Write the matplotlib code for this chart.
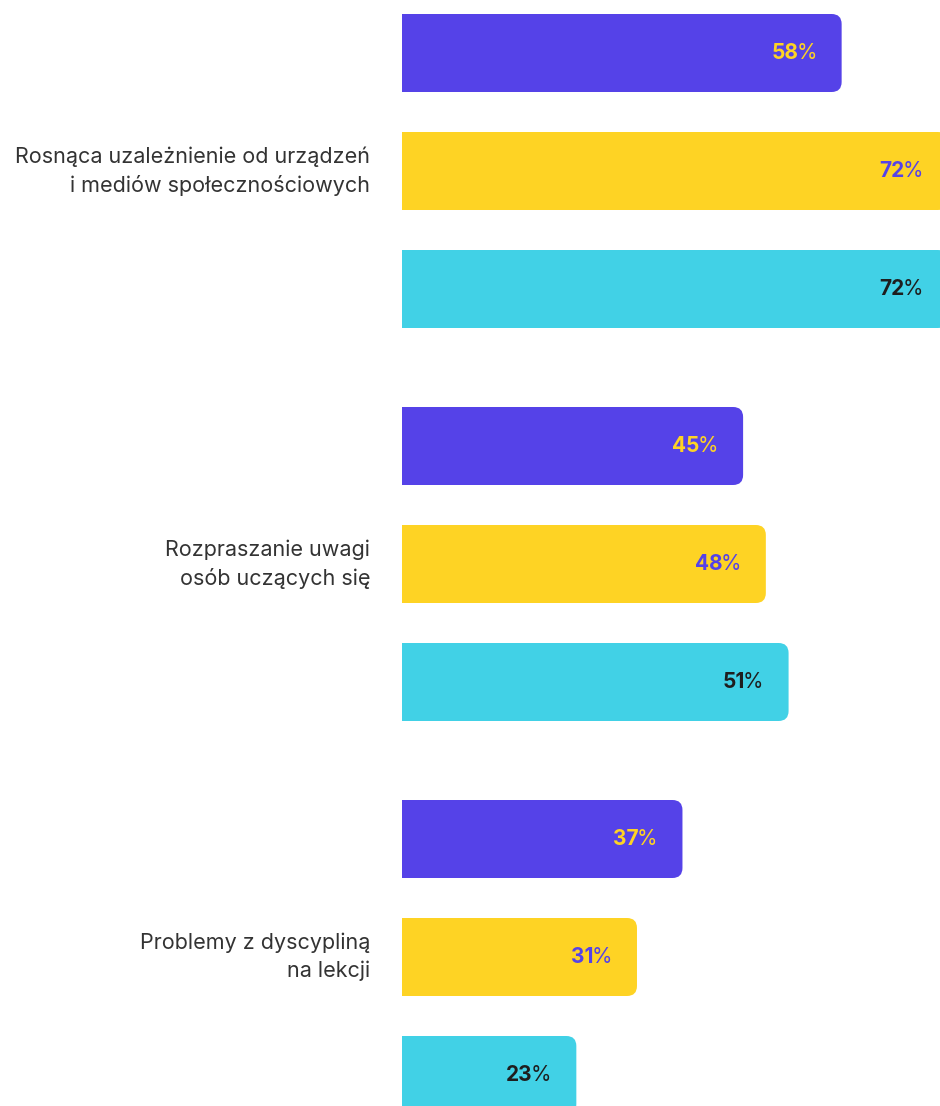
import matplotlib
matplotlib.use("Agg")
import matplotlib.pyplot as plt
from matplotlib.patches import FancyBboxPatch

plt.rcParams['font.family'] = ['Inter', 'DejaVu Sans']

categories = [
    "Rosnąca uzależnienie od urządzeń\ni mediów społecznościowych",
    "Rozpraszanie uwagi\nosób uczących się",
    "Problemy z dyscypliną\nna lekcji",
]
series_a = [58, 45, 37]
series_b = [72, 48, 31]
series_c = [72, 51, 23]

colors = ["#5542E8", "#FED324", "#41D1E6"]
text_colors = ["#FED324", "#5542E8", "#1E1E1E"]

W, H, DPI = 940, 1106, 100
fig = plt.figure(figsize=(W / DPI, H / DPI), dpi=DPI)
fig.patch.set_facecolor("white")

x0_px = 402
px_per_unit = 7.58
ax = fig.add_axes([x0_px / W, 0, 1 - x0_px / W, 1])
ax.set_xlim(0, (W - x0_px) / px_per_unit)

pitch_px = 118.0
group_px = 393.0
first_center_px = 53.0
bar_h = 78.0 / pitch_px
gap = group_px / pitch_px - 3
ax.set_ylim((H - first_center_px) / pitch_px, -first_center_px / pitch_px)
ax.axis("off")

all_series = [series_a, series_b, series_c]
rx = 10.0 / px_per_unit
ry = 10.0 / pitch_px
aspect = ry / rx

for g, cat in enumerate(categories):
    for s, vals in enumerate(all_series):
        y = g * (3 + gap) + s
        bars = ax.barh([y], [vals[g]], height=bar_h, color=colors[s])
        for b in bars:
            b.set_visible(False)
            x, yb = b.get_x(), b.get_y()
            w, h = b.get_width(), b.get_height()
            p = FancyBboxPatch((x - 3, yb), w + 3, h,
                               boxstyle=f"round,pad=0,rounding_size={rx}",
                               mutation_aspect=aspect,
                               facecolor=colors[s], edgecolor="none")
            ax.add_patch(p)
        pct = ax.annotate("%", xy=(vals[g], y), xytext=(-25, 0),
                          textcoords="offset pixels", ha="right", va="center",
                          fontsize=15, color=text_colors[s], fontweight="normal",
                          annotation_clip=False)
        ax.annotate(str(vals[g]), xy=(0, 0.5), xycoords=pct,
                    xytext=(2, 0), textcoords="offset pixels",
                    ha="right", va="center", fontsize=15,
                    color=text_colors[s], fontweight="bold",
                    annotation_clip=False)
    yc = g * (3 + gap) + 1
    ax.annotate(cat, xy=(0, yc), xytext=(-32, 0), textcoords="offset pixels",
                ha="right", va="center", fontsize=15.5, color="#333333",
                linespacing=1.45, annotation_clip=False)

fig.savefig("out.png", dpi=DPI, facecolor="white")
